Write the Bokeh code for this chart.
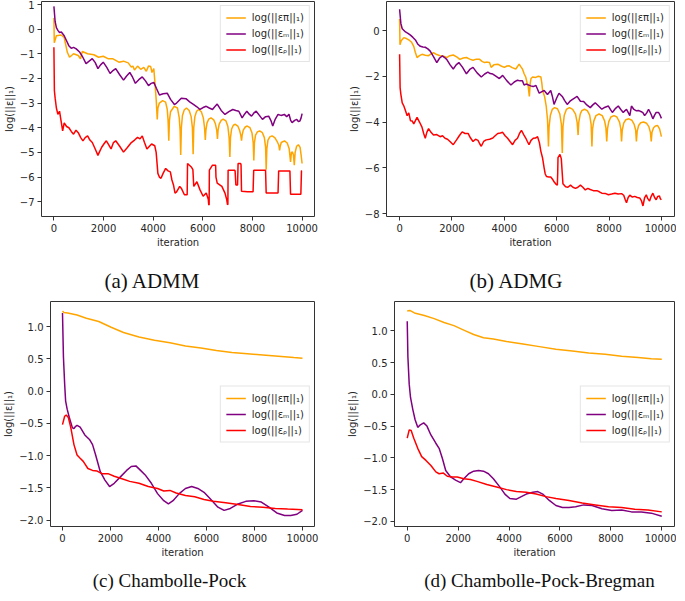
from bokeh.plotting import figure
from bokeh.layouts import column, row
from bokeh.models import Range1d, FixedTicker, CustomJSTickFormatter
from bokeh.core.properties import value
from bokeh.embed import file_html
from bokeh.resources import INLINE

# ---------------- data (iteration, log residual) ----------------
ITER_TICKS = [0, 2000, 4000, 6000, 8000, 10000]
ADMM_TICKS = [1, 0, -1, -2, -3, -4, -5, -6, -7]
ADMG_TICKS = [0, -2, -4, -6, -8]
CP_TICKS = [1.0, 0.5, 0.0, -0.5, -1.0, -1.5, -2.0]

LABEL_PI = "log(||επ||₁)"
LABEL_M = "log(||εₘ||₁)"
LABEL_RHO = "log(||εᵨ||₁)"
CAPTIONS = ["(a) ADMM", "(b) ADMG", "(c) Chambolle-Pock", "(d) Chambolle-Pock-Bregman"]

admm_pi = [(0, 0.45), (15, -0.55), (100, -0.27), (290, -0.24), (415, -0.34), (541, -0.94), (630, -1.14),
           (792, -1.0), (981, -1.07), (1070, -1.2), (1145, -0.91), (1358, -1.0), (1610, -1.04), (1799, -1.14),
           (1987, -1.1), (2176, -1.2), (2365, -1.2), (2616, -1.34), (2805, -1.3), (2994, -1.37), (3120, -1.54),
           (3183, -1.5), (3245, -1.66), (3371, -1.5), (3497, -1.63), (3623, -1.55), (3723, -1.71), (3811, -1.5),
           (3900, -1.52), (3950, -1.76), (4025, -1.6), (4063, -2.07), (4126, -2.93), (4164, -3.66),
           (4190, -3.2), (4250, -3.0), (4380, -2.9), (4500, -2.96), (4566, -3.25), (4600, -3.7), (4629, -4.53),
           (4655, -3.7), (4700, -3.35), (4850, -3.13), (4980, -3.2), (5050, -3.6), (5085, -4.1), (5110, -5.1),
           (5135, -4.0), (5180, -3.5), (5250, -3.28), (5340, -3.2), (5450, -3.3), (5530, -3.55), (5580, -4.0),
           (5610, -5.07), (5635, -4.0), (5680, -3.55), (5750, -3.33), (5830, -3.26), (5940, -3.35), (6020, -3.6),
           (6070, -4.0), (6100, -4.5), (6125, -4.1), (6170, -3.8), (6240, -3.65), (6330, -3.6), (6440, -3.68),
           (6510, -3.85), (6560, -4.1), (6590, -4.45), (6615, -4.1), (6660, -3.85), (6740, -3.7), (6820, -3.65),
           (6930, -3.72), (7010, -3.95), (7060, -4.4), (7090, -5.19), (7115, -4.4), (7160, -4.05), (7230, -3.9),
           (7310, -3.86), (7410, -3.93), (7480, -4.1), (7530, -4.3), (7560, -4.52), (7585, -4.3), (7630, -4.1),
           (7710, -3.97), (7790, -3.93), (7900, -4.0), (7980, -4.2), (8030, -4.6), (8055, -5.33), (8080, -4.6),
           (8125, -4.3), (8200, -4.17), (8290, -4.13), (8400, -4.2), (8480, -4.4), (8530, -4.8), (8553, -5.7),
           (8580, -4.85), (8625, -4.5), (8700, -4.37), (8790, -4.33), (8900, -4.4), (8990, -4.55), (9060, -4.7),
           (9094, -4.92), (9120, -4.75), (9160, -4.6), (9290, -4.53), (9400, -4.62), (9480, -4.85), (9535, -5.39),
           (9570, -5.0), (9610, -4.98), (9650, -5.1), (9686, -5.52), (9720, -5.0), (9780, -4.75), (9850, -4.69),
           (9920, -4.8), (9960, -5.1), (10000, -5.45)]

admm_m = [(0, 0.92), (50, 0.3), (100, 0.06), (160, -0.05), (226, -0.14), (300, -0.12), (415, -0.27), (500, -0.45),
          (600, -0.67), (700, -0.78), (792, -0.74), (900, -0.8), (1044, -0.94), (1170, -1.15), (1295, -1.4),
          (1420, -1.3), (1547, -1.2), (1660, -1.35), (1774, -1.6), (1880, -1.45), (1987, -1.34), (2130, -1.55),
          (2264, -1.8), (2380, -1.68), (2490, -1.6), (2650, -1.85), (2805, -2.07), (2930, -1.9), (3057, -1.76),
          (3170, -1.95), (3283, -2.2), (3420, -2.05), (3560, -1.94), (3690, -2.1), (3811, -2.29), (3920, -2.2),
          (4025, -2.16), (4130, -2.4), (4252, -2.67), (4400, -2.62), (4566, -2.6), (4700, -2.85), (4855, -3.06),
          (4943, -3.0), (5132, -2.8), (5320, -2.82), (5470, -2.95), (5635, -3.06), (5760, -3.15), (5887, -3.26),
          (6010, -3.18), (6138, -3.13), (6260, -3.2), (6390, -3.26), (6480, -3.15), (6580, -3.04), (6740, -3.3),
          (6893, -3.46), (7050, -3.35), (7208, -3.26), (7330, -3.3), (7450, -3.33), (7585, -3.6), (7680, -3.45),
          (7774, -3.33), (7870, -3.45), (7962, -3.53), (8060, -3.4), (8151, -3.33), (8280, -3.5), (8403, -3.66),
          (8530, -3.55), (8654, -3.53), (8740, -3.7), (8818, -3.93), (8920, -3.65), (9031, -3.46), (9150, -3.5),
          (9283, -3.46), (9380, -3.55), (9472, -3.45), (9540, -3.7), (9597, -3.79), (9700, -3.7), (9786, -3.66),
          (9850, -3.75), (9912, -3.73), (9960, -3.6), (10000, -3.43)]

admm_rho = [(0, -0.74), (20, -2.5), (50, -2.8), (100, -3.2), (160, -3.46), (226, -3.33), (290, -3.73), (352, -4.13),
            (415, -3.8), (510, -3.95), (604, -4.0), (700, -4.15), (792, -4.26), (890, -4.1), (981, -4.2),
            (1080, -4.4), (1170, -4.53), (1260, -4.4), (1358, -4.33), (1450, -4.5), (1547, -4.6), (1660, -4.85),
            (1774, -5.12), (1850, -4.95), (1925, -4.79), (2020, -4.65), (2113, -4.53), (2210, -4.7), (2302, -4.86),
            (2400, -4.6), (2490, -4.53), (2650, -4.75), (2805, -4.99), (2960, -4.8), (3120, -4.6), (3250, -4.5),
            (3371, -4.39), (3470, -4.45), (3560, -4.33), (3650, -4.6), (3748, -4.86), (3850, -4.75), (3937, -4.66),
            (4063, -4.73), (4120, -5.0), (4189, -5.85), (4250, -6.0), (4315, -6.05), (4400, -5.85), (4503, -5.65),
            (4600, -5.75), (4692, -5.79), (4755, -6.12), (4818, -6.32), (4880, -6.65), (4943, -6.6), (5069, -6.38),
            (5132, -6.45), (5258, -6.72), (5370, -6.72), (5384, -5.45), (5535, -5.59), (5600, -5.7), (5635, -6.38),
            (5761, -6.19), (5887, -6.52), (6013, -6.78), (6138, -6.65), (6220, -6.9), (6239, -7.12), (6255, -7.12),
            (6264, -5.72), (6390, -5.52), (6516, -5.52), (6530, -6.0), (6580, -6.25), (6768, -6.38), (6893, -6.65),
            (6960, -6.9), (6994, -7.12), (7010, -7.1), (7019, -5.72), (7270, -5.72), (7300, -5.75), (7333, -6.32),
            (7400, -6.32), (7421, -5.45), (7522, -5.45), (7540, -5.5), (7560, -6.58), (7800, -6.6), (8025, -6.6),
            (8050, -5.72), (8528, -5.72), (8553, -6.65), (9031, -6.65), (9056, -5.75), (9509, -5.75), (9535, -6.7),
            (9950, -6.7), (9975, -5.75), (10000, -5.75)]

admg_pi = [(0, 0.5), (15, -0.62), (60, -0.45), (163, -0.31), (260, -0.35), (352, -0.41), (450, -0.5), (541, -0.69),
           (600, -0.95), (667, -1.18), (760, -1.1), (855, -1.04), (980, -1.08), (1107, -1.1), (1200, -1.02),
           (1296, -0.97), (1420, -1.05), (1547, -1.1), (1680, -1.12), (1799, -1.18), (1920, -1.1), (2050, -1.07),
           (2180, -1.15), (2302, -1.26), (2430, -1.2), (2553, -1.18), (2680, -1.25), (2805, -1.3), (2930, -1.25),
           (3057, -1.26), (3150, -1.35), (3245, -1.4), (3350, -1.38), (3434, -1.4), (3497, -1.61), (3600, -1.5),
           (3749, -1.47), (3880, -1.55), (4000, -1.61), (4100, -1.55), (4189, -1.54), (4300, -1.62), (4440, -1.68),
           (4566, -1.47), (4640, -1.6), (4692, -1.68), (4760, -1.9), (4818, -2.03), (4870, -2.3), (4906, -2.38),
           (4956, -2.88), (4990, -2.3), (5020, -2.1), (5082, -2.03), (5200, -2.05), (5300, -2.0), (5396, -2.03),
           (5434, -2.31), (5460, -2.6), (5540, -2.9), (5600, -3.3), (5650, -3.9), (5686, -5.07), (5710, -4.2),
           (5760, -3.7), (5830, -3.45), (5920, -3.37), (6030, -3.42), (6120, -3.65), (6180, -4.1), (6214, -5.35),
           (6240, -4.2), (6290, -3.7), (6370, -3.45), (6490, -3.37), (6610, -3.45), (6720, -3.65), (6780, -4.0),
           (6818, -4.57), (6845, -4.0), (6900, -3.65), (6960, -3.5), (7060, -3.44), (7170, -3.5), (7260, -3.7),
           (7315, -4.1), (7346, -5.07), (7370, -4.3), (7420, -3.95), (7500, -3.72), (7620, -3.65), (7740, -3.72),
           (7830, -3.95), (7880, -4.25), (7912, -4.85), (7940, -4.3), (7990, -3.98), (8070, -3.78), (8190, -3.72),
           (8300, -3.78), (8400, -4.0), (8450, -4.3), (8478, -4.85), (8505, -4.35), (8560, -4.05), (8640, -3.9),
           (8760, -3.86), (8870, -3.92), (8960, -4.1), (9015, -4.35), (9045, -4.85), (9075, -4.4), (9130, -4.15),
           (9210, -4.03), (9320, -4.0), (9430, -4.05), (9520, -4.2), (9580, -4.45), (9611, -4.85), (9640, -4.45),
           (9700, -4.25), (9770, -4.17), (9850, -4.15), (9930, -4.3), (10000, -4.64)]

admg_m = [(0, 0.93), (50, 0.3), (101, 0.08), (226, -0.06), (320, -0.12), (415, -0.2), (510, -0.3), (604, -0.41),
          (700, -0.6), (792, -0.69), (890, -0.72), (981, -0.73), (1080, -0.8), (1170, -0.9), (1300, -1.15),
          (1421, -1.4), (1530, -1.2), (1635, -1.11), (1720, -1.18), (1799, -1.26), (1930, -1.5), (2050, -1.68),
          (2160, -1.5), (2264, -1.4), (2400, -1.6), (2553, -1.89), (2680, -1.7), (2805, -1.61), (2960, -1.85),
          (3120, -2.03), (3250, -1.9), (3371, -1.82), (3460, -1.88), (3560, -1.9), (3690, -2.0), (3811, -2.1),
          (3937, -1.96), (4100, -2.2), (4252, -2.38), (4380, -2.25), (4503, -2.17), (4600, -2.2), (4692, -2.2),
          (4755, -2.38), (4830, -2.34), (5006, -2.42), (5100, -2.45), (5208, -2.4), (5333, -2.74), (5420, -2.68),
          (5522, -2.62), (5648, -2.8), (5773, -2.62), (5840, -2.9), (5899, -3.23), (6000, -2.95), (6088, -2.74),
          (6214, -2.88), (6300, -3.05), (6402, -3.23), (6500, -3.1), (6591, -3.02), (6680, -2.95), (6780, -2.88),
          (6906, -3.09), (7031, -3.1), (7150, -3.25), (7283, -3.37), (7380, -3.25), (7472, -3.16), (7600, -3.3),
          (7723, -3.44), (7850, -3.35), (7975, -3.3), (8050, -3.45), (8126, -3.58), (8250, -3.4), (8352, -3.3),
          (8450, -3.45), (8541, -3.58), (8610, -3.5), (8667, -3.45), (8740, -3.6), (8793, -3.72), (8856, -3.3),
          (8950, -3.45), (9045, -3.51), (9140, -3.5), (9233, -3.55), (9300, -3.6), (9359, -3.72), (9440, -3.6),
          (9510, -3.44), (9600, -3.65), (9674, -3.86), (9740, -3.7), (9800, -3.58), (9888, -3.58), (9950, -3.7),
          (10000, -3.84)]

admg_rho = [(0, -1.04), (20, -2.5), (50, -2.8), (101, -3.16), (163, -3.3), (226, -3.51), (289, -3.72), (352, -3.6),
            (415, -3.94), (480, -3.95), (541, -4.08), (600, -3.95), (667, -3.8), (760, -4.0), (855, -4.22),
            (920, -4.5), (981, -4.71), (1040, -4.45), (1107, -4.29), (1200, -4.45), (1296, -4.57), (1420, -4.55),
            (1547, -4.64), (1640, -4.6), (1736, -4.71), (1830, -4.75), (1925, -4.85), (2050, -4.99), (2176, -4.78),
            (2280, -4.6), (2390, -4.43), (2500, -4.5), (2616, -4.5), (2710, -4.7), (2805, -4.85), (2900, -4.75),
            (2994, -4.8), (3060, -4.95), (3120, -5.06), (3210, -4.85), (3308, -4.78), (3440, -4.75), (3560, -4.7),
            (3650, -4.6), (3749, -4.5), (3850, -4.48), (3937, -4.45), (4030, -4.6), (4126, -4.71), (4220, -4.85),
            (4315, -4.99), (4410, -4.8), (4503, -4.71), (4580, -4.5), (4654, -4.36), (4740, -4.55), (4818, -4.7),
            (4880, -4.85), (4943, -4.99), (5020, -4.8), (5107, -4.71), (5190, -4.7), (5270, -4.64), (5340, -4.9),
            (5396, -5.28), (5459, -5.56), (5520, -6.0), (5560, -6.26), (5610, -6.38), (5700, -6.4), (5773, -6.4),
            (5840, -6.5), (5899, -6.61), (5960, -6.7), (6025, -6.76), (6040, -6.2), (6050, -5.56), (6126, -5.42),
            (6176, -5.6), (6210, -6.2), (6239, -6.7), (6340, -6.83), (6430, -6.85), (6528, -6.76), (6620, -6.85),
            (6717, -6.9), (6810, -6.85), (6906, -6.76), (7000, -6.85), (7094, -6.97), (7190, -6.9), (7283, -6.95),
            (7400, -7.0), (7534, -7.0), (7630, -7.05), (7723, -7.11), (7850, -7.12), (7975, -7.18), (8100, -7.15),
            (8226, -7.11), (8350, -7.15), (8478, -7.13), (8560, -7.2), (8620, -7.4), (8667, -7.53), (8730, -7.3),
            (8793, -7.2), (8890, -7.28), (8981, -7.25), (9080, -7.3), (9170, -7.32), (9240, -7.45), (9296, -7.67),
            (9360, -7.3), (9422, -7.18), (9480, -7.35), (9548, -7.45), (9610, -7.25), (9674, -7.11), (9740, -7.3),
            (9800, -7.4), (9860, -7.25), (9925, -7.23), (9960, -7.35), (10000, -7.4)]

cp_pi = [(0, 1.24), (60, 1.22), (219, 1.21), (606, 1.18), (994, 1.13), (1510, 1.08), (2026, 0.99), (2542, 0.91),
         (3187, 0.84), (3832, 0.79), (4477, 0.75), (5123, 0.70), (5768, 0.67), (6413, 0.63), (7058, 0.60),
         (7703, 0.58), (8348, 0.56), (8994, 0.54), (9639, 0.52), (10000, 0.51)]

cp_m = [(0, 1.21), (39, 0.53), (90, 0.11), (129, -0.15), (194, -0.28), (284, -0.41), (413, -0.57), (477, -0.58),
        (540, -0.55), (606, -0.53), (735, -0.56), (929, -0.68), (1123, -0.75), (1252, -0.83), (1381, -0.99),
        (1574, -1.25), (1768, -1.38), (1961, -1.48), (2155, -1.43), (2413, -1.33), (2671, -1.23), (2865, -1.17),
        (3058, -1.16), (3252, -1.23), (3445, -1.30), (3703, -1.43), (3961, -1.59), (4219, -1.70), (4413, -1.75),
        (4606, -1.70), (4864, -1.59), (5123, -1.51), (5381, -1.48), (5639, -1.51), (5897, -1.57), (6155, -1.67),
        (6477, -1.80), (6735, -1.85), (6994, -1.82), (7316, -1.75), (7639, -1.71), (7961, -1.70), (8284, -1.72),
        (8606, -1.80), (8929, -1.89), (9252, -1.93), (9510, -1.93), (9768, -1.91), (10000, -1.85)]

cp_rho = [(0, -0.52), (90, -0.39), (155, -0.37), (245, -0.41), (348, -0.57), (477, -0.83), (606, -0.99),
          (735, -1.04), (865, -1.09), (1058, -1.20), (1252, -1.23), (1445, -1.24), (1639, -1.28), (1897, -1.28),
          (2155, -1.32), (2477, -1.36), (2800, -1.40), (3187, -1.43), (3574, -1.48), (3961, -1.51), (4219, -1.55),
          (4477, -1.54), (4735, -1.58), (5123, -1.62), (5510, -1.64), (5897, -1.68), (6284, -1.71), (6800, -1.73),
          (7316, -1.76), (7832, -1.79), (8348, -1.80), (8865, -1.82), (9381, -1.83), (10000, -1.84)]

cpb_pi = [(0, 1.31), (100, 1.32), (284, 1.28), (672, 1.24), (1059, 1.19), (1447, 1.13), (1835, 1.08), (2222, 1.01),
          (2610, 0.94), (2997, 0.89), (3385, 0.87), (3902, 0.83), (4548, 0.79), (5194, 0.75), (5840, 0.71),
          (6486, 0.68), (7132, 0.65), (7778, 0.63), (8424, 0.60), (9070, 0.58), (9587, 0.56), (10000, 0.55)]

cpb_m = [(0, 1.15), (26, 0.59), (78, 0.16), (129, -0.05), (220, -0.24), (310, -0.40), (413, -0.52), (517, -0.48),
         (646, -0.45), (775, -0.50), (930, -0.64), (1124, -0.77), (1253, -0.85), (1382, -1.01), (1512, -1.20),
         (1705, -1.30), (1899, -1.35), (2093, -1.39), (2222, -1.33), (2416, -1.25), (2610, -1.21), (2804, -1.20),
         (2997, -1.21), (3191, -1.25), (3385, -1.33), (3643, -1.46), (3837, -1.57), (4031, -1.64), (4289, -1.65),
         (4483, -1.61), (4677, -1.57), (4935, -1.54), (5129, -1.53), (5323, -1.57), (5581, -1.67), (5840, -1.75),
         (6098, -1.78), (6357, -1.78), (6615, -1.77), (6938, -1.74), (7261, -1.75), (7649, -1.80), (8036, -1.83),
         (8424, -1.82), (8811, -1.85), (9199, -1.85), (9587, -1.87), (10000, -1.92)]

cpb_rho = [(0, -0.69), (78, -0.56), (155, -0.57), (258, -0.69), (413, -0.85), (568, -0.98), (736, -1.04),
           (930, -1.12), (1124, -1.22), (1253, -1.25), (1421, -1.24), (1576, -1.29), (1770, -1.30), (1964, -1.30),
           (2222, -1.33), (2481, -1.34), (2739, -1.37), (3127, -1.42), (3514, -1.46), (3902, -1.50), (4289, -1.53),
           (4677, -1.54), (5065, -1.57), (5452, -1.61), (5840, -1.64), (6357, -1.67), (6873, -1.71), (7390, -1.74),
           (7907, -1.77), (8424, -1.78), (8941, -1.81), (9457, -1.82), (10000, -1.85)]

# ---------------- styling ----------------
ORANGE, PURPLE, RED = "#FFA500", "#800080", "#FF0000"
SANS = "DejaVu Sans"
SERIF = "Liberation Serif"
FRAME = "#333333"
FS = "10px"


def make_panel(width, height, borders, yrange, yticks, ydigits, series, legend_loc):
    left, right, top, bottom = borders
    p = figure(width=width, height=height, output_backend="svg", toolbar_location=None,
               x_range=Range1d(-500, 10500), y_range=Range1d(*yrange),
               min_border_left=left, min_border_right=right, min_border_top=top, min_border_bottom=bottom)
    p.xgrid.visible = False
    p.ygrid.visible = False
    p.outline_line_color = FRAME
    p.outline_line_width = 1
    p.background_fill_color = "white"
    p.border_fill_color = "white"
    for ax in p.axis:
        ax.axis_line_color = None
        ax.major_tick_out = 4
        ax.major_tick_in = 0
        ax.minor_tick_out = 0
        ax.minor_tick_in = 0
        ax.major_tick_line_color = FRAME
        ax.major_label_text_font = SANS
        ax.major_label_text_font_size = FS
        ax.major_label_text_color = "#262626"
        ax.major_label_standoff = 3
        ax.axis_label_text_font = SANS
        ax.axis_label_text_font_size = FS
        ax.axis_label_text_font_style = "normal"
        ax.axis_label_text_color = "#262626"
        ax.axis_label_standoff = 2
    p.xaxis.ticker = FixedTicker(ticks=ITER_TICKS)
    p.yaxis.ticker = FixedTicker(ticks=yticks)
    p.yaxis.formatter = CustomJSTickFormatter(
        code="return (tick < 0 ? '\u2212' : '') + Math.abs(tick).toFixed(%d);" % ydigits)
    p.xaxis.axis_label = "iteration"
    p.yaxis.axis_label = "log(||ε||₁)"
    for data, color, label in series:
        xs = [d[0] for d in data]
        ys = [d[1] for d in data]
        p.line(xs, ys, line_color=color, line_width=1.5, legend_label=label)
    lg = p.legend[0]
    lg.location = legend_loc
    lg.margin = 4
    lg.padding = 5
    lg.spacing = 3
    lg.label_height = 13
    lg.glyph_height = 13
    lg.glyph_width = 20
    lg.label_standoff = 6
    lg.label_text_font = SANS
    lg.label_text_font_size = FS
    lg.label_text_color = "#262626"
    lg.border_line_color = "#cccccc"
    lg.border_line_width = 1
    lg.background_fill_alpha = 0.8
    return p


def make_caption(width, height, cx, cy, text, size):
    c = figure(width=width, height=height, output_backend="svg", toolbar_location=None,
               x_range=Range1d(0, width), y_range=Range1d(0, height),
               x_axis_location=None, y_axis_location=None, min_border=0)
    c.xgrid.visible = False
    c.ygrid.visible = False
    c.outline_line_color = None
    c.text(x=[cx], y=[cy], text=[text], text_align="center", text_baseline="middle",
           text_font=value(SERIF), text_font_size=size, text_color="#111111")
    return c


pa = make_panel(336, 252, (38, 22, 1, 36), (-7.6, 1.12), ADMM_TICKS, 0,
                [(admm_pi, ORANGE, LABEL_PI), (admm_m, PURPLE, LABEL_M), (admm_rho, RED, LABEL_RHO)],
                "top_right")
pb = make_panel(340, 252, (50, 2, 1, 36), (-8.13, 1.27), ADMG_TICKS, 0,
                [(admg_pi, ORANGE, LABEL_PI), (admg_m, PURPLE, LABEL_M), (admg_rho, RED, LABEL_RHO)],
                "top_right")
pc = make_panel(336, 263, (47, 22, 4, 34), (-2.1, 1.39), CP_TICKS, 1,
                [(cp_pi, ORANGE, LABEL_PI), (cp_m, PURPLE, LABEL_M), (cp_rho, RED, LABEL_RHO)],
                "center_right")
pd = make_panel(340, 263, (58, 2, 4, 34), (-2.08, 1.46), CP_TICKS, 1,
                [(cpb_pi, ORANGE, LABEL_PI), (cpb_m, PURPLE, LABEL_M), (cpb_rho, RED, LABEL_RHO)],
                "center_right")

ca = make_caption(336, 45, 152, 17, CAPTIONS[0], "21px")
cb = make_caption(340, 45, 180, 17, CAPTIONS[1], "21px")
cc = make_caption(336, 32, 169, 12, CAPTIONS[2], "19px")
cd = make_caption(340, 32, 203, 12, CAPTIONS[3], "19px")

layout = column(row(pa, pb), row(ca, cb), row(pc, pd), row(cc, cd))

open("out.html", "w").write(file_html(layout, INLINE))
